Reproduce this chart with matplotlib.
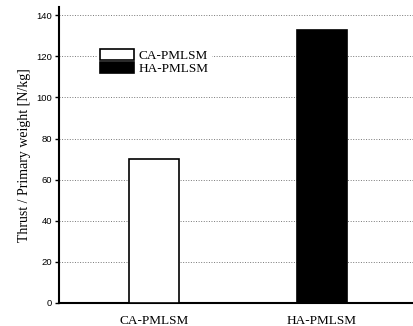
import matplotlib.pyplot as plt

# Data
motors = ["CA-PMLSM", "HA-PMLSM"]
thrust_per_weight = [70, 133]
bar_colors = ["white", "black"]
y_ticks = [0, 20, 40, 60, 80, 100, 120, 140]

fig = plt.figure(figsize=(4.14, 3.26), dpi=100)
ax = fig.add_axes([0.1425, 0.0706, 0.8575, 0.908])

x_pos = range(len(motors))
bars = ax.bar(x_pos, thrust_per_weight, width=0.3, color=bar_colors,
              edgecolor="black", linewidth=1.2, zorder=3)

# Axes styling
ax.set_xlim(-0.565, 1.548)
ax.set_ylim(0, 144)
ax.set_yticks(y_ticks)
ax.set_xticks(list(x_pos))
ax.set_xticklabels(motors, family="Liberation Serif", fontsize=9.5)
ax.tick_params(axis="x", length=0, pad=9)
ax.tick_params(axis="y", direction="out", length=3, width=1, labelsize=6.8, pad=2)
for lbl in ax.get_yticklabels():
    lbl.set_family("Liberation Sans")

ax.spines["top"].set_visible(False)
ax.spines["right"].set_visible(False)
ax.spines["left"].set_linewidth(1.5)
ax.spines["bottom"].set_linewidth(1.5)

ax.yaxis.grid(True, linestyle=":", color="#777777", linewidth=0.7, zorder=0)
ax.set_axisbelow(True)

ax.set_ylabel("Thrust / Primary weight [N/kg]", family="Liberation Serif",
              fontsize=10, labelpad=4)

leg = ax.legend(handles=bars, labels=motors, loc="upper left",
                bbox_to_anchor=(0.09, 0.89), frameon=True, fancybox=False,
                edgecolor="white", framealpha=1, handlelength=2.6,
                handleheight=0.9, handletextpad=0.3, borderpad=0.2,
                labelspacing=0.05, prop={"family": "Liberation Serif", "size": 9.5})

fig.savefig("out.png", dpi=100)
